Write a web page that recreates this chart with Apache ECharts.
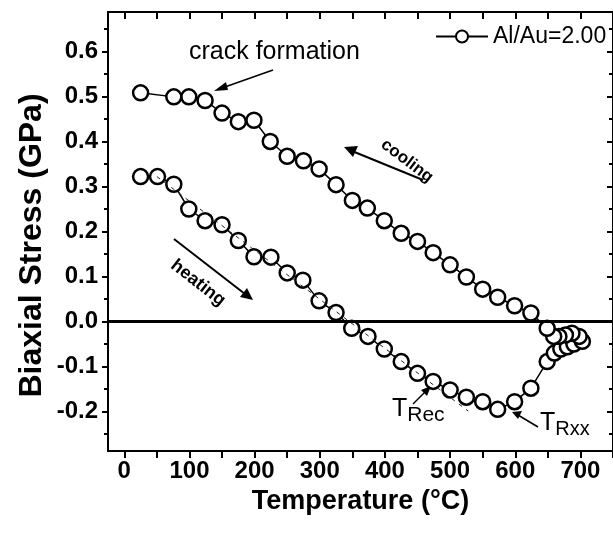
<!DOCTYPE html>
<html><head><meta charset="utf-8">
<script src="https://cdn.jsdelivr.net/npm/echarts@6/dist/echarts.min.js"></script>
<style>html,body{margin:0;padding:0;background:#fff}#c{width:613px;height:536px}</style>
</head><body><div id="c"></div>
<script>
// Heating branch (°C, GPa)
const heatingT = [25, 51, 76, 99, 124, 150, 175, 199, 225, 250, 274, 299, 325, 349, 374, 399, 425, 450, 474, 500, 525, 550, 573, 599, 624, 649, 660, 670, 680, 690, 703];
const heatingS = [0.322, 0.322, 0.305, 0.250, 0.224, 0.215, 0.180, 0.144, 0.143, 0.108, 0.092, 0.046, 0.020, -0.015, -0.033, -0.061, -0.089, -0.115, -0.133, -0.152, -0.168, -0.178, -0.195, -0.178, -0.148, -0.089, -0.070, -0.061, -0.056, -0.050, -0.044];
// Cooling branch, from the peak temperature back to room temperature
const coolingT = [698, 687, 677, 667, 659, 649, 624, 599, 573, 550, 525, 500, 474, 450, 425, 399, 373, 350, 325, 299, 275, 250, 224, 199, 175, 150, 124, 99, 76, 25];
const coolingS = [-0.033, -0.026, -0.030, -0.033, -0.033, -0.015, 0.019, 0.035, 0.054, 0.072, 0.099, 0.126, 0.153, 0.178, 0.196, 0.224, 0.252, 0.269, 0.304, 0.339, 0.357, 0.367, 0.400, 0.447, 0.444, 0.463, 0.491, 0.499, 0.499, 0.508];
// Linear fit of the heating branch used to locate T_Rec
const fitT = [50, 528];
const fitS = [0.322, -0.199];

const xTicks = [0, 50, 100, 150, 200, 250, 300, 350, 400, 450, 500, 550, 600, 650, 700, 750];
const xLabels = [0, 100, 200, 300, 400, 500, 600, 700];
const yMajor = [-0.2, -0.1, 0.0, 0.1, 0.2, 0.3, 0.4, 0.5, 0.6];
const yMinor = [-0.25, -0.15, -0.05, 0.05, 0.15, 0.25, 0.35, 0.45, 0.55, 0.65];

const loop = heatingT.map((t, i) => [t, heatingS[i]])
  .concat(coolingT.map((t, i) => [t, coolingS[i]]));
const fit = fitT.map((t, i) => [t, fitS[i]]);

const FONT = '"Liberation Sans", Arial, sans-serif';
const chart = echarts.init(document.getElementById('c'), null, {renderer: 'canvas'});

const axisLine = {show: true, onZero: false, lineStyle: {color: '#000', width: 2}};
const tickStyle = {color: '#000', width: 2};
const xCommon = {type: 'value', min: -25, max: 750, axisLine: axisLine, splitLine: {show: false}};
const yCommon = {type: 'value', min: -0.2875, max: 0.6875, axisLine: axisLine, splitLine: {show: false}};

chart.setOption({
  animation: false,
  backgroundColor: '#fff',
  grid: {left: 108, top: 12, width: 510, height: 439, containLabel: false},
  legend: {
    show: true, left: 435, top: 25, padding: 0,
    itemWidth: 52, itemHeight: 15,
    textStyle: {fontFamily: FONT, fontSize: 23, color: '#000'},
    data: ['Al/Au=2.00']
  },
  xAxis: [
    Object.assign({}, xCommon, {
      position: 'bottom',
      name: 'Temperature (°C)', nameLocation: 'middle', nameGap: 37, nameMoveOverlap: false,
      nameTextStyle: {fontFamily: FONT, fontSize: 27, fontWeight: 'bold', color: '#000'},
      axisTick: {show: true, inside: false, length: 7, customValues: xTicks, lineStyle: tickStyle},
      axisLabel: {show: true, customValues: xLabels, margin: 8, fontFamily: FONT, fontSize: 24, fontWeight: 'bold', color: '#000'}
    }),
    Object.assign({}, xCommon, {
      position: 'top',
      axisTick: {show: true, inside: true, length: 7, customValues: xTicks, lineStyle: tickStyle},
      axisLabel: {show: false}
    })
  ],
  yAxis: [
    Object.assign({}, yCommon, {
      position: 'left',
      name: 'Biaxial Stress (GPa)', nameLocation: 'middle', nameGap: 60, nameMoveOverlap: false,
      nameTextStyle: {fontFamily: FONT, fontSize: 32, fontWeight: 'bold', color: '#000', padding: [0, 28, 0, 0]},
      axisTick: {show: true, inside: false, length: 6, customValues: yMajor, lineStyle: tickStyle},
      axisLabel: {show: true, customValues: yMajor, margin: 10, fontFamily: FONT, fontSize: 24, fontWeight: 'bold', color: '#000',
        formatter: v => v.toFixed(1)}
    }),
    Object.assign({}, yCommon, {
      position: 'right',
      axisTick: {show: true, inside: true, length: 6, customValues: yMajor, lineStyle: tickStyle},
      axisLabel: {show: false}
    }),
    Object.assign({}, yCommon, {
      position: 'left',
      axisTick: {show: true, inside: false, length: 4, customValues: yMinor, lineStyle: tickStyle},
      axisLabel: {show: false}
    }),
    Object.assign({}, yCommon, {
      position: 'right',
      axisTick: {show: true, inside: true, length: 4, customValues: yMinor, lineStyle: tickStyle},
      axisLabel: {show: false}
    })
  ],
  series: [
    {
      name: 'Al/Au=2.00', type: 'line', data: loop,
      symbol: 'circle', symbolSize: 15,
      itemStyle: {color: '#fff', borderColor: '#000', borderWidth: 2.5},
      lineStyle: {color: '#000', width: 1.5},
      z: 3,
      markLine: {
        silent: true, symbol: 'none', label: {show: false},
        lineStyle: {color: '#000', width: 3, type: 'solid'},
        data: [{yAxis: 0}]
      }
    },
    {
      name: 'fit', type: 'line', data: fit, symbol: 'none',
      lineStyle: {color: '#222', width: 1, type: [4, 5]},
      z: 4
    }
  ],
  graphic: [
    // crack formation
    {type: 'text', left: 189, top: 40, style: {text: 'crack formation', font: '25px ' + FONT, fill: '#000'}},
    {type: 'line', shape: {x1: 273, y1: 70, x2: 222, y2: 88}, style: {stroke: '#000', lineWidth: 1.5}},
    {type: 'polygon', shape: {points: [[214, 91], [226, 82], [228, 90]]}, style: {fill: '#000'}},
    // cooling arrow
    {type: 'line', shape: {x1: 423, y1: 180, x2: 352, y2: 151}, style: {stroke: '#000', lineWidth: 2}},
    {type: 'polygon', shape: {points: [[344, 147], [358, 146], [353, 157]]}, style: {fill: '#000'}},
    {type: 'text', x: 407, y: 161, rotation: -37 * Math.PI / 180,
      style: {text: 'cooling', font: 'bold 17px ' + FONT, fill: '#000', align: 'center', verticalAlign: 'middle'}},
    // heating arrow
    {type: 'line', shape: {x1: 174, y1: 239, x2: 245, y2: 294}, style: {stroke: '#000', lineWidth: 2}},
    {type: 'polygon', shape: {points: [[253, 300], [240, 297], [247, 288]]}, style: {fill: '#000'}},
    {type: 'text', x: 198, y: 283, rotation: -38 * Math.PI / 180,
      style: {text: 'heating', font: 'bold 18px ' + FONT, fill: '#000', align: 'center', verticalAlign: 'middle'}},
    // T_Rec
    {type: 'text', left: 392, top: 397, style: {
      rich: {t: {font: '25px ' + FONT, fill: '#000'}, s: {font: '21px ' + FONT, fill: '#000', padding: [12, 0, 0, 0]}},
      text: '{t|T}{s|Rec}'}},
    {type: 'line', shape: {x1: 413, y1: 404, x2: 426, y2: 391}, style: {stroke: '#000', lineWidth: 1.5}},
    {type: 'polygon', shape: {points: [[431, 386], [421, 390], [427, 396]]}, style: {fill: '#000'}},
    // T_Rxx
    {type: 'text', left: 540, top: 411, style: {
      rich: {t: {font: '25px ' + FONT, fill: '#000'}, s: {font: '20px ' + FONT, fill: '#000', padding: [12, 0, 0, 0]}},
      text: '{t|T}{s|Rxx}'}},
    {type: 'line', shape: {x1: 538, y1: 427, x2: 518, y2: 415}, style: {stroke: '#000', lineWidth: 1.5}},
    {type: 'polygon', shape: {points: [[512, 412], [522, 411], [518, 419]]}, style: {fill: '#000'}}
  ]
});
</script>
</body></html>
